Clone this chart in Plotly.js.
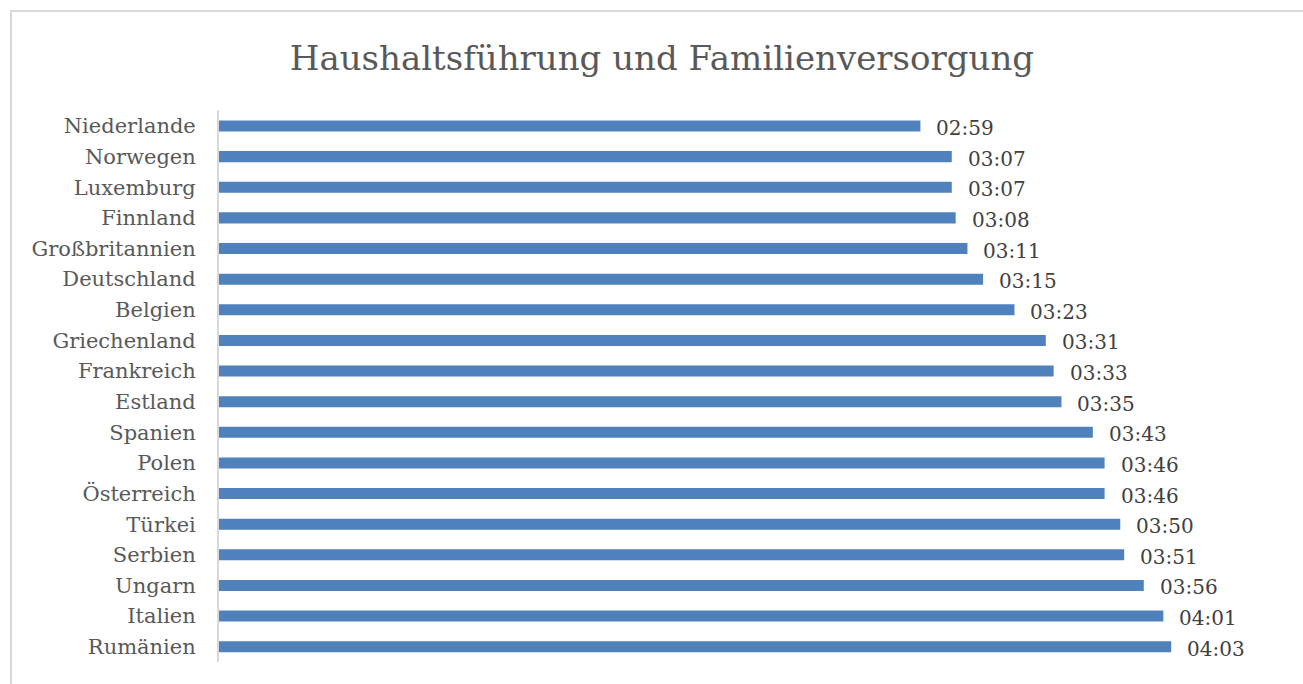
<!DOCTYPE html>
<html>
<head>
<meta charset="utf-8">
<script src="https://cdn.plot.ly/plotly-3.0.1.min.js"></script>
<style>
html,body{margin:0;padding:0;background:#fff;}
#wrap{position:relative;width:1303px;height:684px;}
#chart{width:1303px;height:684px;}
#frame{position:absolute;left:10px;top:10px;width:1310px;height:700px;border:2px solid #d9d9d9;pointer-events:none;}
</style>
</head>
<body>
<div id="wrap"><div id="chart"></div><div id="frame"></div></div>
<script>
const countries = ["Niederlande","Norwegen","Luxemburg","Finnland","Großbritannien","Deutschland","Belgien","Griechenland","Frankreich","Estland","Spanien","Polen","Österreich","Türkei","Serbien","Ungarn","Italien","Rumänien"];
const labels = ["02:59","03:07","03:07","03:08","03:11","03:15","03:23","03:31","03:33","03:35","03:43","03:46","03:46","03:50","03:51","03:56","04:01","04:03"];
const minutes = [179,187,187,188,191,195,203,211,213,215,223,226,226,230,231,236,241,243];

const font = "DejaVu Serif, serif";
const trace = {
  type: "bar",
  orientation: "h",
  y: countries,
  x: minutes,
  marker: {color: "#4f81bd"},
  hoverinfo: "skip"
};
const annotations = countries.map((c, i) => ({
  x: minutes[i], y: c, xref: "x", yref: "y",
  text: labels[i], showarrow: false, xanchor: "left", yanchor: "middle",
  xshift: 14, yshift: -2,
  font: {family: font, size: 20, color: "#404040"}
}));
const layout = {
  width: 1303, height: 684,
  margin: {l: 219, r: 26, t: 110, b: 22},
  paper_bgcolor: "#fff", plot_bgcolor: "#fff",
  title: {text: "Haushaltsführung und Familienversorgung", x: 0.508, xanchor: "center", y: 0.915, yanchor: "middle",
          font: {family: font, size: 34, color: "#595959"}},
  bargap: 0.64,
  showlegend: false,
  xaxis: {range: [0, 270], showgrid: false, zeroline: false, showticklabels: false, showline: false, ticks: ""},
  yaxis: {autorange: "reversed", showgrid: false, zeroline: false, showline: true, linecolor: "#d9d9d9", linewidth: 2,
          ticks: "", ticklabelstandoff: 17, tickfont: {family: font, size: 21, color: "#595959"}},
  annotations: annotations
};
Plotly.newPlot("chart", [trace], layout, {staticPlot: true, displayModeBar: false});
</script>
</body>
</html>
